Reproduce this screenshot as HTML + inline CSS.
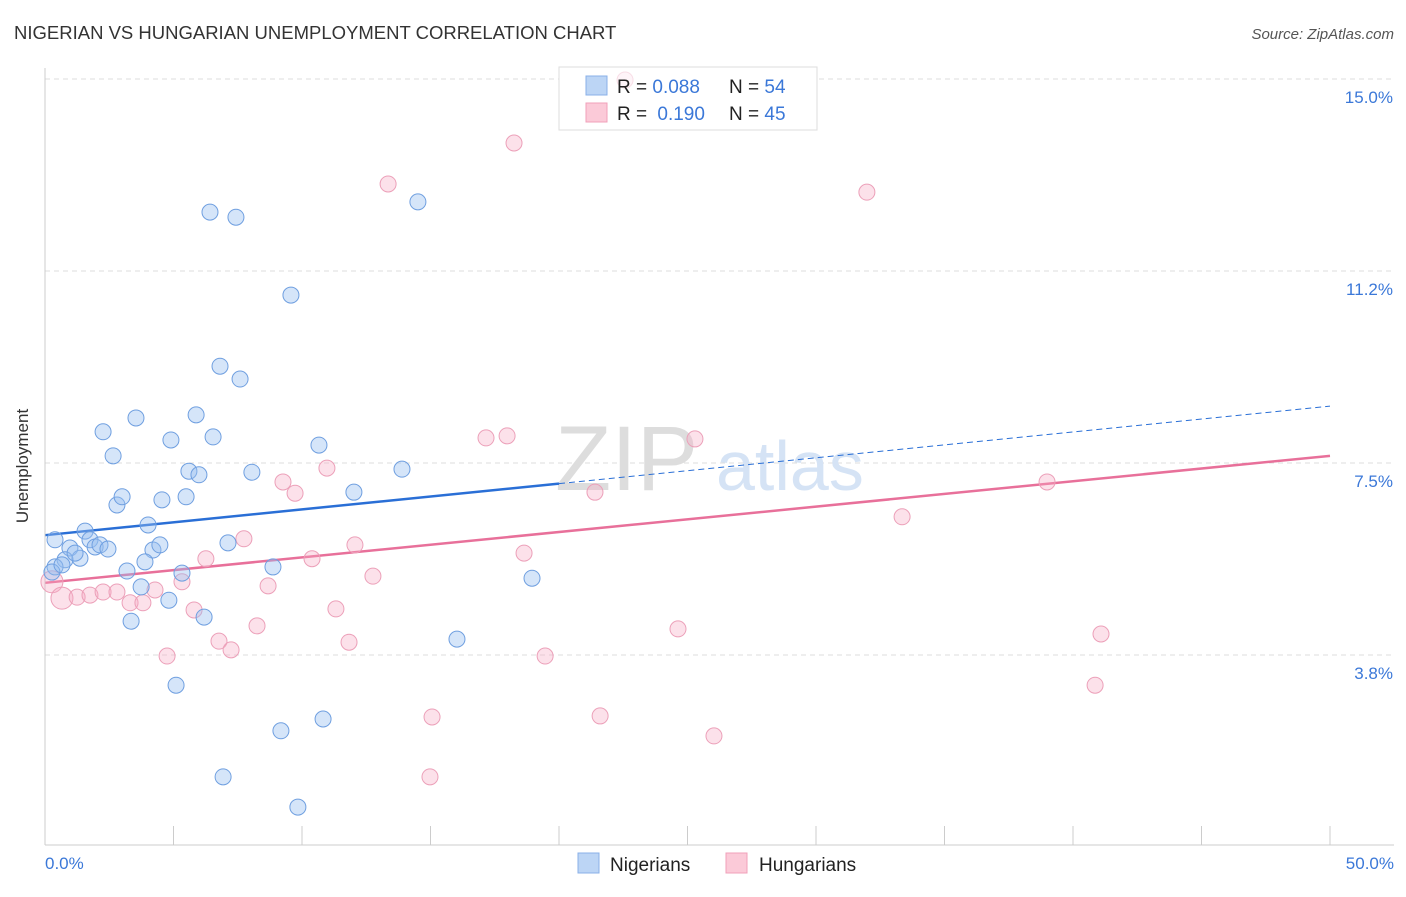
<!DOCTYPE html>
<html><head><meta charset="utf-8"><style>
body{margin:0;background:#fff;font-family:"Liberation Sans",sans-serif;}
svg text{font-family:"Liberation Sans",sans-serif;}
</style></head><body>
<svg id="chart" width="1406" height="892">
<text x="14" y="39" font-size="18.5" fill="#333">NIGERIAN VS HUNGARIAN UNEMPLOYMENT CORRELATION CHART</text>
<text x="1394" y="39" font-size="15" fill="#555" font-style="italic" text-anchor="end">Source: ZipAtlas.com</text>
<g id="grid"></g>
<g><text x="555" y="490" font-size="92" fill="#ddd" font-family="Liberation Serif,serif">ZIP</text><text x="716" y="490" font-size="70" fill="#d5e3f5">atlas</text></g>
<g id="trends"></g>
<line x1="45" y1="68" x2="45" y2="845" stroke="#ccc"/>
<line x1="45" y1="845" x2="1394" y2="845" stroke="#ccc"/>
<text x="18" y="456" font-size="17" fill="#333" text-anchor="middle" transform="rotate(-90 28 456)">Unemployment</text>
<text x="45" y="869" font-size="17" fill="#3b78d8">0.0%</text>
<text x="1394" y="869" font-size="17" fill="#3b78d8" text-anchor="end">50.0%</text>
<g>
<rect x="559" y="67" width="258" height="63" fill="#fff" stroke="#ddd"/>
</g>
<g id="pts"></g>
<g>
<rect x="586" y="76" width="21" height="19" fill="#bcd5f5" stroke="#8ab0e8"/>
<rect x="586" y="103" width="21" height="19" fill="#fbcad8" stroke="#f0a0ba"/>
<text x="617" y="93" font-size="19" fill="#222">R = <tspan fill="#3b78d8">0.088</tspan><tspan x="729">N = </tspan><tspan fill="#3b78d8">54</tspan></text>
<text x="617" y="120" font-size="19" fill="#222">R = <tspan fill="#3b78d8" dx="5">0.190</tspan><tspan x="729">N = </tspan><tspan fill="#3b78d8">45</tspan></text>
</g>
<g>
<rect x="578" y="853" width="21" height="20" fill="#bcd5f5" stroke="#8ab0e8"/>
<text x="610" y="871" font-size="19" fill="#222">Nigerians</text>
<rect x="726" y="853" width="21" height="20" fill="#fbcad8" stroke="#f0a0ba"/>
<text x="759" y="871" font-size="19" fill="#222">Hungarians</text>
</g>
</svg>
<script>
const yTicks=[3.75,7.5,11.25,15];
const yTickLabels=["3.8%","7.5%","11.2%","15.0%"];
const xTicks=[0,5,10,15,20,25,30,35,40,45,50];
const nigX=[0.39,0.97,1.56,1.75,1.95,2.14,2.45,0.78,1.36,1.17,0.39,0.27,2.26,2.65,2.8,3.0,3.54,4.01,4.2,4.47,3.89,3.19,3.74,3.35,4.82,4.55,4.9,5.49,5.6,5.99,5.88,6.54,6.81,7.59,6.42,7.43,9.57,8.05,7.12,5.33,6.19,5.1,6.93,9.18,9.84,10.82,8.87,10.66,12.02,13.89,14.51,16.03,18.95,0.66];
const nigY=[6.0,5.84,6.17,6.0,5.86,5.9,5.82,5.61,5.64,5.74,5.47,5.37,8.11,7.64,6.68,6.84,8.38,6.29,5.8,5.9,5.57,5.39,5.08,4.41,4.82,6.78,7.95,6.84,7.34,7.27,8.44,8.01,9.39,9.14,12.4,12.3,10.78,7.32,5.94,5.35,4.49,3.16,1.37,2.27,0.78,2.5,5.47,7.85,6.93,7.38,12.6,4.06,5.25,5.51];
const hunX=[0.27,0.66,1.25,1.75,2.26,2.8,3.31,3.81,4.28,5.33,5.8,6.26,4.75,6.77,7.24,7.74,8.25,8.68,9.26,9.73,10.39,10.97,11.32,11.83,12.06,12.76,13.35,15.06,14.98,17.16,17.98,18.25,18.64,19.46,21.4,21.6,22.57,24.63,25.29,26.03,31.98,33.35,38.99,40.86,41.09];
const hunY=[5.18,4.86,4.88,4.92,4.98,4.98,4.77,4.77,5.02,5.18,4.63,5.63,3.73,4.02,3.85,6.02,4.32,5.1,7.13,6.91,5.63,7.4,4.65,4.0,5.9,5.29,12.95,2.54,1.37,7.99,8.03,13.75,5.74,3.73,6.93,2.56,14.98,4.26,7.97,2.17,12.79,6.45,7.13,3.16,4.16];
const nigTrend=[6.09,8.61];
const hunTrend=[5.16,7.64];
const NS="http://www.w3.org/2000/svg";
const sx=v=>45+v*25.7, sy=v=>79+(15-v)*51.2;
function mk(t,a,p){const e=document.createElementNS(NS,t);for(const k in a)e.setAttribute(k,a[k]);p.appendChild(e);return e;}
const grid=document.getElementById('grid');
yTicks.forEach((t,i)=>{
 const l=mk('line',{x1:45,x2:1394,y1:sy(t),y2:sy(t),stroke:'#ddd','stroke-dasharray':'5,4'},grid);
 
 
 const tx=mk('text',{x:1393,y:sy(t)+24,'font-size':17,fill:'#3b78d8','text-anchor':'end'},grid);
 tx.textContent=yTickLabels[i];
 
 
});
xTicks.forEach(t=>{
 const l=mk('line',{x1:sx(t),x2:sx(t),y1:826,y2:845,stroke:'#ccc'},grid);
 
 
});
const pts=document.getElementById('pts');
hunX.forEach((x,i)=>{
 const c=mk('circle',{cx:sx(x),cy:sy(hunY[i]),r:i<2?11:8,fill:'rgba(245,170,195,0.35)',stroke:'#eca0b9','stroke-width':1},pts);
 if(hunY[i]>14.5)c.setAttribute('opacity','0.35');
 
 
});
nigX.forEach((x,i)=>{
 const c=mk('circle',{cx:sx(x),cy:sy(nigY[i]),r:8,fill:'rgba(150,190,240,0.4)',stroke:'#6f9fe0','stroke-width':1},pts);
 
 
});
const tr=document.getElementById('trends');
const yb=x=>nigTrend[0]+(nigTrend[1]-nigTrend[0])*x/50;
let l1=mk('line',{x1:sx(0),y1:sy(yb(0)),x2:sx(20),y2:sy(yb(20)),stroke:'#2a6fd6','stroke-width':2.5},tr);


let l2=mk('line',{x1:sx(20),y1:sy(yb(20)),x2:sx(50),y2:sy(yb(50)),stroke:'#2a6fd6','stroke-width':1,'stroke-dasharray':'6,4'},tr);


let l3=mk('line',{x1:sx(0),y1:sy(hunTrend[0]),x2:sx(50),y2:sy(hunTrend[1]),stroke:'#e8709a','stroke-width':2.5},tr);


</script>
</body></html>
